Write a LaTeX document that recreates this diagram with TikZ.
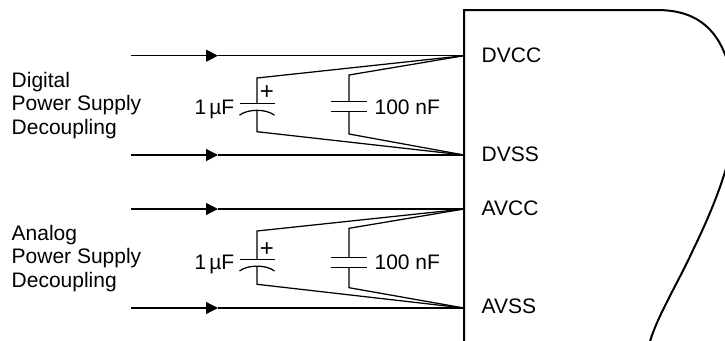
\documentclass[tikz,border=0pt]{standalone}
\usepackage{fontspec}
\setmainfont{Liberation Sans}
\usetikzlibrary{arrows.meta}
\begin{document}
\begin{tikzpicture}[x=1pt,y=-1pt,
  wire/.style={line width=1.25pt},
  plate/.style={line width=1.25pt},
  chip/.style={line width=2pt},
  arr/.style={wire,-{Triangle[length=12pt,width=12pt]}},
  lbl/.style={font=\fontsize{21}{23.5}\selectfont, inner sep=0pt},
  pinlbl/.style={lbl,anchor=base west},
  grouplbl/.style={lbl,anchor=base west,align=left},
  capval/.style={lbl},
  pluslbl/.style={inner sep=0pt,font=\fontsize{24}{24}\selectfont},
]
\useasboundingbox (0,0) rectangle (725,340);
\clip (0,0) rectangle (725,340);

% chip outline
\draw[chip] (464,345) -- (464,10) -- (657,10)
  .. controls (705,10) and (732,38) .. (735,110)
  .. controls (737,150) and (715,205) .. (693,250)
  .. controls (678,283) and (656,318) .. (649,345);

% pins
\coordinate (DVCC) at (464,55.7);
\coordinate (DVSS) at (464,155);
\coordinate (AVCC) at (464,209);
\coordinate (AVSS) at (464,308);

\node[pinlbl] (tDVCC) at (481.5,62) {DVCC};
\node[pinlbl] (tDVSS) at (481.5,161) {DVSS};
\node[pinlbl] (tAVCC) at (481.5,215) {AVCC};
\node[pinlbl] (tAVSS) at (481.5,313) {AVSS};

% group labels (base = baseline of last line)
\node[grouplbl] (gdig) at (11.5,134) {Digital\\Power Supply\\Decoupling};
\node[grouplbl] (gana) at (11.5,287) {Analog\\Power Supply\\Decoupling};

% supply lines with arrows
\coordinate (s1) at (131,55.7);  \coordinate (a1) at (218,55.7);
\coordinate (s2) at (131,155);   \coordinate (a2) at (218,155);
\coordinate (s3) at (131,209);   \coordinate (a3) at (218,209);
\coordinate (s4) at (131,308);   \coordinate (a4) at (218,308);
\draw[arr] (s1) -- (a1); \draw[wire] (a1) -- (DVCC);
\draw[arr] (s2) -- (a2); \draw[wire] (a2) -- (DVSS);
\draw[arr] (s3) -- (a3); \draw[wire] (a3) -- (AVCC);
\draw[arr] (s4) -- (a4); \draw[wire] (a4) -- (AVSS);

% ---------- digital capacitors ----------
\coordinate (d1t) at (257,78);
\coordinate (d1p) at (257,103.3);
\coordinate (d1n) at (257,110.2);
\coordinate (d1b) at (257,131.7);
\draw[wire] (DVCC) -- (d1t) -- (d1p);
\draw[plate] ([xshift=-17.5pt]d1p) -- ([xshift=17.5pt]d1p);
\draw[plate] ([shift={(-17.5,5)}]d1n) .. controls ([shift={(-9,-1.5)}]d1n) and ([shift={(9,-1.5)}]d1n) .. ([shift={(17.5,5)}]d1n);
\draw[wire] (d1n) -- (d1b) -- (DVSS);
\node[pluslbl] (dplus) at (267,93) {+};
\node[capval,anchor=base east] (d1v) at (234.5,114) {1\hspace{3pt}µF};

\coordinate (d2t) at (349,75);
\coordinate (d2p) at (349,101.7);
\coordinate (d2n) at (349,111.7);
\coordinate (d2b) at (349,134);
\draw[wire] (DVCC) -- (d2t) -- (d2p);
\draw[plate] ([xshift=-18pt]d2p) -- ([xshift=18pt]d2p);
\draw[plate] ([xshift=-18pt]d2n) -- ([xshift=18pt]d2n);
\draw[wire] (d2n) -- (d2b) -- (DVSS);
\node[capval,anchor=base west] (d2v) at (374.4,114) {100 nF};

% ---------- analog capacitors ----------
\coordinate (e1t) at (257,231);
\coordinate (e1p) at (257,259.3);
\coordinate (e1n) at (257,266);
\coordinate (e1b) at (257,284.3);
\draw[wire] (AVCC) -- (e1t) -- (e1p);
\draw[plate] ([xshift=-17.5pt]e1p) -- ([xshift=17.5pt]e1p);
\draw[plate] ([shift={(-17.5,5)}]e1n) .. controls ([shift={(-9,-1.5)}]e1n) and ([shift={(9,-1.5)}]e1n) .. ([shift={(17.5,5)}]e1n);
\draw[wire] (e1n) -- (e1b) -- (AVSS);
\node[pluslbl] (aplus) at (267,249.3) {+};
\node[capval,anchor=base east] (e1v) at (234.5,269) {1\hspace{3pt}µF};

\coordinate (e2t) at (349,228.3);
\coordinate (e2p) at (349,257.3);
\coordinate (e2n) at (349,267.3);
\coordinate (e2b) at (349,287.7);
\draw[wire] (AVCC) -- (e2t) -- (e2p);
\draw[plate] ([xshift=-18pt]e2p) -- ([xshift=18pt]e2p);
\draw[plate] ([xshift=-18pt]e2n) -- ([xshift=18pt]e2n);
\draw[wire] (e2n) -- (e2b) -- (AVSS);
\node[capval,anchor=base west] (e2v) at (374.4,269) {100 nF};
\end{tikzpicture}
\end{document}
